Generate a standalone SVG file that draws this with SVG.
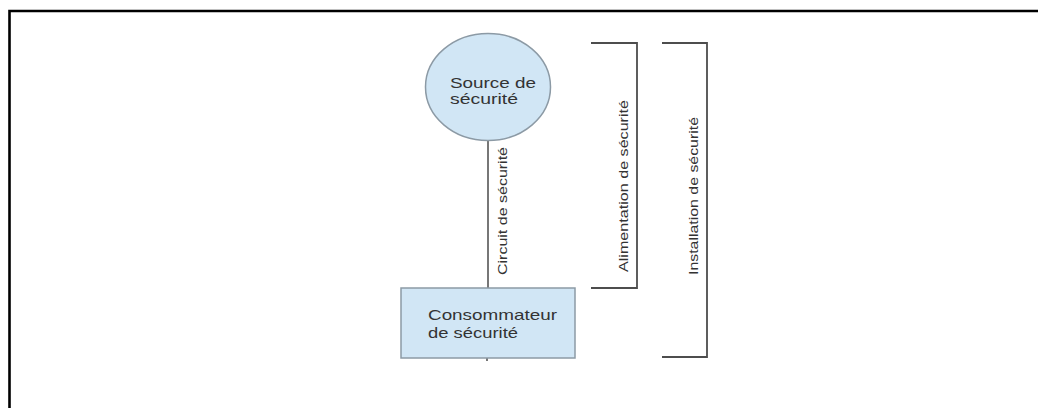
<svg xmlns="http://www.w3.org/2000/svg" width="1038" height="408" viewBox="0 0 1038 408">
  <style>
    .frame { fill: none; stroke: #000; stroke-width: 2.6; }
    .node { fill: #d1e6f5; stroke: #8c9aa5; stroke-width: 1.5; }
    .lbl { font-family: "Liberation Sans", Arial, sans-serif; font-size: 15px; fill: #333; }
    .vlbl { font-family: "Liberation Sans", Arial, sans-serif; font-size: 13.5px; fill: #333; }
    .conn { fill: none; stroke: #555; stroke-width: 1.6; }
    .bracket { fill: none; stroke: #4d4d4d; stroke-width: 1.8; }
  </style>
  <rect width="1038" height="408" fill="#fff"/>
  <path class="frame" d="M9.5 408 V11 H1038"/>

  <g id="connectors">
    <path class="conn" d="M488 140 V288"/>
    <path class="conn" d="M487 358 V361"/>
    <text class="vlbl" transform="translate(507 211) rotate(-90)" text-anchor="middle" textLength="128" lengthAdjust="spacingAndGlyphs">Circuit de sécurité</text>
  </g>

  <g id="source">
    <ellipse class="node" cx="488" cy="87" rx="62.5" ry="53.5"/>
    <text class="lbl" x="450" y="88" textLength="86" lengthAdjust="spacingAndGlyphs">Source de</text>
    <text class="lbl" x="450" y="104" textLength="68" lengthAdjust="spacingAndGlyphs">sécurité</text>
  </g>

  <g id="consommateur">
    <rect class="node" x="401" y="288" width="174" height="70"/>
    <text class="lbl" x="428" y="320" textLength="129" lengthAdjust="spacingAndGlyphs">Consommateur</text>
    <text class="lbl" x="428" y="338" textLength="90" lengthAdjust="spacingAndGlyphs">de sécurité</text>
  </g>

  <g id="alimentation">
    <path class="bracket" d="M591 43 H637 V288 H591"/>
    <text class="vlbl" transform="translate(628 186) rotate(-90)" text-anchor="middle" textLength="172" lengthAdjust="spacingAndGlyphs">Alimentation de sécurité</text>
  </g>

  <g id="installation">
    <path class="bracket" d="M662 43 H707 V357 H662"/>
    <text class="vlbl" transform="translate(698 196) rotate(-90)" text-anchor="middle" textLength="158" lengthAdjust="spacingAndGlyphs">Installation de sécurité</text>
  </g>
</svg>
